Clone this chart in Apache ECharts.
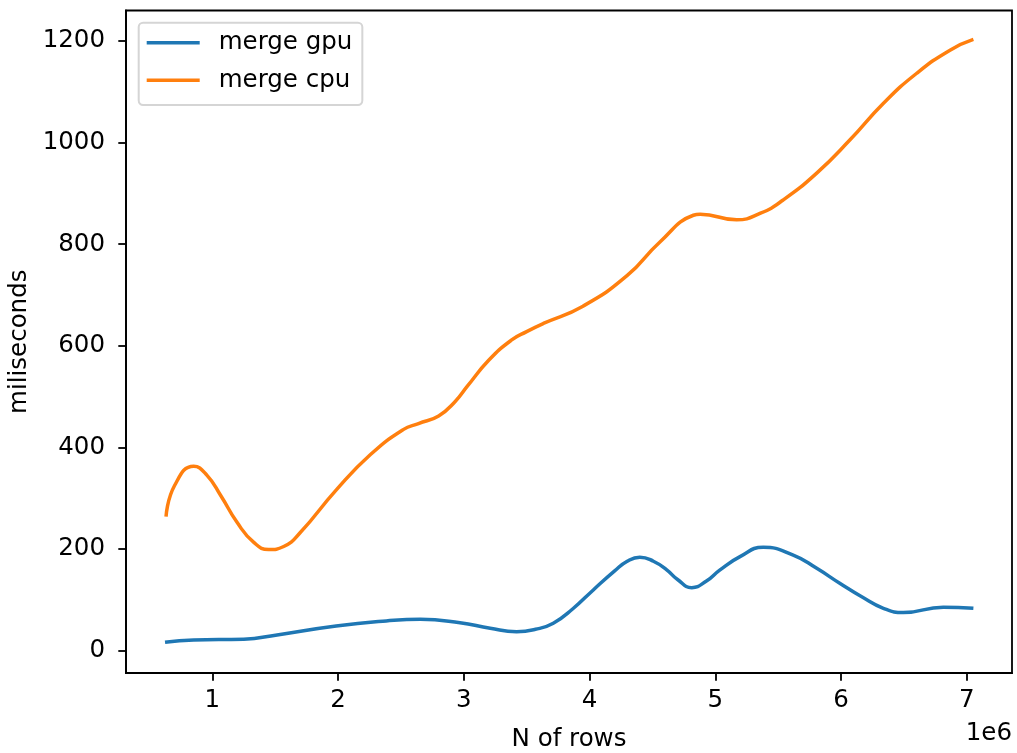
<!DOCTYPE html>
<html>
<head>
<meta charset="utf-8">
<script src="https://cdn.jsdelivr.net/npm/echarts@6/dist/echarts.min.js"></script>
<style>
html,body{margin:0;padding:0;background:#fff;}
#chart{width:1017px;height:753px;}
</style>
</head>
<body>
<div id="chart"></div>
<script>
// ---- data ----
const seriesNames = ['merge gpu', 'merge cpu'];
const gpuRows = [0.624e6, 0.852e6, 1.25e6, 1.515e6, 1.985e6, 2.383e6, 2.654e6, 2.97e6, 3.21e6, 3.42e6, 3.57e6, 3.712e6, 3.87e6, 4.03e6, 4.2e6, 4.30e6, 4.40e6, 4.508e6, 4.614e6, 4.70e6, 4.813e6, 4.93e6, 5.038e6, 5.197e6, 5.382e6, 5.62e6, 5.807e6, 5.99e6, 6.165e6, 6.337e6, 6.496e6, 6.814e6, 7.053e6];
const gpuMs   = [16.5, 21, 22.4, 31, 48.6, 58.5, 61.8, 55, 44, 37.4, 42, 54, 83, 119.5, 157, 176, 184, 176, 159, 140, 124, 137, 159, 185, 203.5, 188, 162, 132.6, 106, 83.4, 75, 85.4, 83.4];
const cpuRows = [0.632e6, 0.70e6, 0.852e6, 0.958e6, 1.068e6, 1.198e6, 1.33e6, 1.448e6, 1.568e6, 1.698e6, 1.988e6, 2.258e6, 2.518e6, 2.64e6, 2.80e6, 2.93e6, 3.03e6, 3.2e6, 3.378e6, 3.5e6, 3.633e6, 3.948e6, 4.298e6, 4.558e6, 4.826e6, 4.88e6, 5.17e6, 5.36e6, 5.54e6, 5.807e6, 6.07e6, 6.336e6, 6.6e6, 6.867e6, 7.053e6];
const cpuMs   = [264, 325, 363, 345, 305, 252, 213, 199, 205, 232, 317, 386, 435, 447, 462, 490, 521, 572, 611, 628, 644, 678, 738, 804, 857, 859, 848, 861, 887, 940, 1005, 1077, 1136, 1182, 1203];
const xTicks = [1e6, 2e6, 3e6, 4e6, 5e6, 6e6, 7e6];
const yTicks = [0, 200, 400, 600, 800, 1000, 1200];

const pairs = (xs, ys) => xs.map((x, i) => [x, ys[i]]);
const FONT = 'DejaVu Sans';
const FS = 24.5;
const TXT = '#000';

const chart = echarts.init(document.getElementById('chart'), null, {renderer: 'canvas'});
chart.setOption({
  animation: false,
  backgroundColor: '#fff',
  textStyle: {fontFamily: FONT},
  grid: {left: 126, right: 5, top: 10.5, bottom: 80, containLabel: false, outerBoundsMode: 'none',
         show: true, borderColor: '#000', borderWidth: 1.8, backgroundColor: 'transparent'},
  legend: {
    data: seriesNames,
    orient: 'vertical',
    left: 138.7, top: 22.7,
    icon: 'rect', itemWidth: 53, itemHeight: 3.5, itemGap: 9.6,
    padding: [6, 10, 10.7, 8],
    borderColor: '#d5d5d5', borderWidth: 2, borderRadius: 4.4,
    backgroundColor: 'rgba(255,255,255,0.8)',
    textStyle: {fontFamily: FONT, fontSize: FS, lineHeight: 28, color: TXT, padding: [0, 0, 0, 14]}
  },
  xAxis: {
    type: 'value', min: 313600, max: 7360000,
    name: 'N of rows', nameLocation: 'middle', nameGap: 54,
    nameTextStyle: {fontFamily: FONT, fontSize: FS, color: TXT},
    axisLine: {show: true, onZero: false, lineStyle: {color: '#000', width: 1.8}},
    axisTick: {show: true, customValues: xTicks, length: 7.7, inside: false, lineStyle: {color: '#000', width: 1.8}},
    axisLabel: {customValues: xTicks, margin: 15, fontFamily: FONT, fontSize: FS, color: TXT, formatter: v => String(Math.round(v / 1e6))},
    splitLine: {show: false}
  },
  yAxis: {
    type: 'value', min: -44, max: 1260,
    name: 'miliseconds', nameLocation: 'middle', nameGap: 92, nameRotate: 90,
    nameTextStyle: {fontFamily: FONT, fontSize: FS, color: TXT},
    axisLine: {show: true, onZero: false, lineStyle: {color: '#000', width: 1.8}},
    axisTick: {show: true, customValues: yTicks, length: 7.7, inside: false, lineStyle: {color: '#000', width: 1.8}},
    axisLabel: {customValues: yTicks, margin: 21, fontFamily: FONT, fontSize: FS, color: TXT, formatter: v => String(v)},
    splitLine: {show: false}
  },
  graphic: [{
    type: 'text', right: 5, top: 721,
    style: {text: '1e6', font: FS + 'px "DejaVu Sans"', fill: TXT}
  }],
  series: [
    {name: seriesNames[0], type: 'line', data: pairs(gpuRows, gpuMs), smooth: 0.5, symbol: 'none', showSymbol: false,
     color: '#1f77b4', lineStyle: {color: '#1f77b4', width: 3.5}},
    {name: seriesNames[1], type: 'line', data: pairs(cpuRows, cpuMs), smooth: 0.5, symbol: 'none', showSymbol: false,
     color: '#ff7f0e', lineStyle: {color: '#ff7f0e', width: 3.5}}
  ]
});
</script>
</body>
</html>
